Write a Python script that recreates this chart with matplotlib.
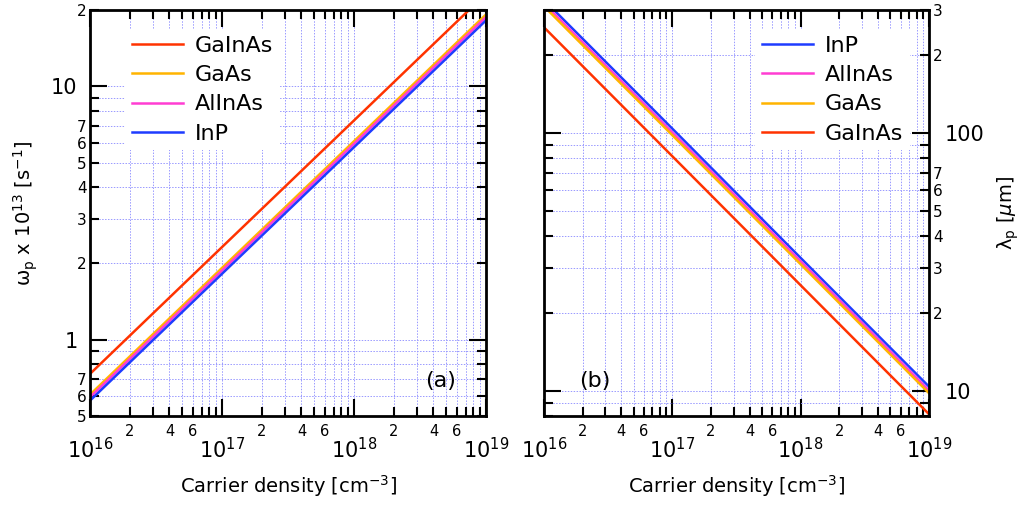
import numpy as np
import matplotlib
matplotlib.use('Agg')
import matplotlib.pyplot as plt
from matplotlib.ticker import LogLocator, FuncFormatter

plt.rcParams['font.family'] = ['DejaVu Sans']
plt.rcParams['mathtext.fontset'] = 'dejavusans'

# ---- data ----
density = [1e16, 1e17, 1e18, 1e19]          # carrier density [cm^-3]
omega_GaInAs = [0.733, 2.32, 7.33, 23.2]    # omega_p x 1e13 [s^-1]
omega_GaAs = [0.607, 1.92, 6.07, 19.2]
omega_AlInAs = [0.593, 1.875, 5.93, 18.75]
omega_InP = [0.575, 1.82, 5.75, 18.2]
lambda_InP = [328, 104, 32.8, 10.4]         # lambda_p [um]
lambda_AlInAs = [318, 100.5, 31.8, 10.05]
lambda_GaAs = [310, 98.1, 31.0, 9.81]
lambda_GaInAs = [257, 81.3, 25.7, 8.13]

C_RED = '#ff3300'
C_ORANGE = '#ffb400'
C_PINK = '#ff3dd2'
C_BLUE = '#1e3cff'
GRID_C = (0.6, 0.6, 1.0)
LW = 1.8

fig = plt.figure(figsize=(10.26, 5.07), dpi=100)
ax1 = fig.add_axes([90/1026, 91/507, 396/1026, 406/507])
ax2 = fig.add_axes([544/1026, 91/507, 385/1026, 406/507])


def minor_fmt(allowed):
    def f(v, pos):
        if v <= 0:
            return ''
        e = np.floor(np.log10(v) + 1e-9)
        m = int(round(v / 10**e))
        return str(m) if m in allowed else ''
    return FuncFormatter(f)


def xmajor(v, pos):
    return r'$10^{%d}$' % int(round(np.log10(v)))


def ymajor(v, pos):
    return '%g' % v


def style(ax):
    ax.set_xscale('log')
    ax.set_yscale('log')
    ax.set_xlim(1e16, 1e19)
    ax.xaxis.set_major_locator(LogLocator(base=10, numticks=10))
    ax.xaxis.set_minor_locator(LogLocator(base=10, subs=np.arange(2, 10), numticks=20))
    ax.yaxis.set_major_locator(LogLocator(base=10, numticks=10))
    ax.yaxis.set_minor_locator(LogLocator(base=10, subs=np.arange(2, 10), numticks=20))
    ax.xaxis.set_major_formatter(FuncFormatter(xmajor))
    ax.xaxis.set_minor_formatter(minor_fmt({2, 4, 6}))
    ax.yaxis.set_major_formatter(FuncFormatter(ymajor))
    ax.yaxis.set_minor_formatter(minor_fmt({2, 3, 4, 5, 6, 7}))
    ax.set_axisbelow(True)
    ax.grid(True, which='both', color=GRID_C, linestyle=(0, (1.5, 1.5)), linewidth=0.7)
    for s in ax.spines.values():
        s.set_linewidth(2.0)
    ax.tick_params(which='both', direction='in', top=True, bottom=True, left=True, right=True,
                   width=1.5, color='black')
    ax.tick_params(which='major', length=12)
    ax.tick_params(which='minor', length=6.5)
    ax.tick_params(axis='x', which='major', labelsize=15, pad=15)
    ax.tick_params(axis='x', which='minor', labelsize=10.5, pad=6)


def make_legend(ax, x):
    leg = ax.legend(loc='upper left', bbox_to_anchor=(x, 0.953), borderaxespad=0.0,
                    fontsize=16, frameon=True, handlelength=2.3, handletextpad=0.54,
                    labelspacing=0.42, borderpad=0.3, fancybox=False)
    fr = leg.get_frame()
    fr.set_facecolor('white')
    fr.set_edgecolor('none')
    fr.set_alpha(1.0)
    return leg


# ---- left panel ----
style(ax1)
ax1.set_ylim(0.5, 20)
ax1.plot(density, omega_GaInAs, color=C_RED, lw=LW, label='GaInAs')
ax1.plot(density, omega_GaAs, color=C_ORANGE, lw=LW, label='GaAs')
ax1.plot(density, omega_AlInAs, color=C_PINK, lw=LW, label='AlInAs')
ax1.plot(density, omega_InP, color=C_BLUE, lw=LW, label='InP')
ax1.tick_params(axis='y', which='major', labelsize=15, pad=9, labelleft=True, labelright=False)
ax1.tick_params(axis='y', which='minor', labelsize=11, pad=2.5)
ax1.set_xlabel('Carrier density [cm$^{-3}$]', fontsize=14, labelpad=8)
ax1.set_ylabel('ω$_\\mathrm{p}$ x 10$^{13}$ [s$^{-1}$]', fontsize=14, labelpad=8)
make_legend(ax1, 0.089)
ax1.text(0.886, 0.085, '(a)', transform=ax1.transAxes, fontsize=16, ha='center', va='center')

# ---- right panel ----
style(ax2)
ax2.set_ylim(8, 300)
ax2.plot(density, lambda_InP, color=C_BLUE, lw=LW, label='InP')
ax2.plot(density, lambda_AlInAs, color=C_PINK, lw=LW, label='AlInAs')
ax2.plot(density, lambda_GaAs, color=C_ORANGE, lw=LW, label='GaAs')
ax2.plot(density, lambda_GaInAs, color=C_RED, lw=LW, label='GaInAs')
ax2.tick_params(axis='y', which='both', labelleft=False, labelright=True)
ax2.tick_params(axis='y', which='major', labelsize=15, pad=11)
ax2.tick_params(axis='y', which='minor', labelsize=11, pad=3)
ax2.yaxis.set_label_position('right')
ax2.set_xlabel('Carrier density [cm$^{-3}$]', fontsize=14, labelpad=8)
ax2.set_ylabel('λ$_\\mathrm{p}$ [$\\mu$m]', fontsize=14, labelpad=8)
make_legend(ax2, 0.549)
ax2.text(0.132, 0.085, '(b)', transform=ax2.transAxes, fontsize=16, ha='center', va='center')

fig.savefig('out.png', dpi=100)
